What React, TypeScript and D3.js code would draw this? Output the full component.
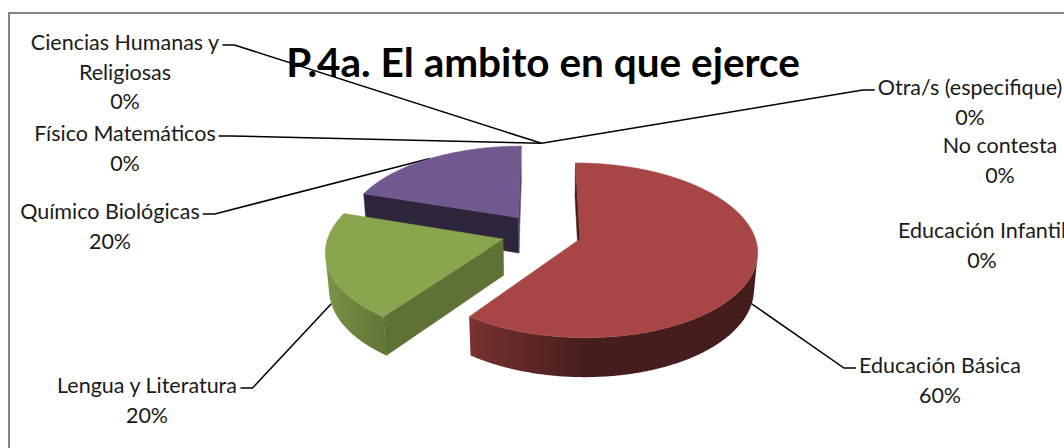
import React, { useMemo } from "react";
import * as d3 from "d3";

// ---------------- data ----------------
const title = "P.4a. El ambito en que ejerce";
const categories = [
  "Educación Infantil",
  "Educación Básica",
  "Lengua y Literatura",
  "Químico Biológicas",
  "Físico Matemáticos",
  "Ciencias Humanas y Religiosas",
  "Otra/s (especifique)",
  "No contesta",
];
const values = [0, 60, 20, 20, 0, 0, 0, 0];
const sliceColors = ["#4F81BD", "#A74644", "#89A54E", "#71588F", "#4198AF", "#DB843D", "#93A9CF", "#D19392"];

// ---------------- layout / style ----------------
const W = 1064;
const H = 448;
const pieView = { cx: 541.5, cy: 233, radius: 174, tilt: 29, distance: 6.85, thickness: 0.24, explode: 0.23 };
const labelFont = "Lato, 'Open Sans', sans-serif";
const labelSize = 21.5;
const lineGap = 29.5;
const titleSize = 40.5;

type Place = { x: number; y: number; side: "left" | "right" | "none"; wrap?: number };
const labelPlaces: Record<string, Place> = {
  "Educación Infantil": { x: 982, y: 238, side: "none" },
  "Educación Básica": { x: 940, y: 373, side: "right" },
  "Lengua y Literatura": { x: 147, y: 393, side: "left" },
  "Químico Biológicas": { x: 110, y: 219, side: "left" },
  "Físico Matemáticos": { x: 125, y: 141, side: "left" },
  "Ciencias Humanas y Religiosas": { x: 125, y: 50, side: "left", wrap: 200 },
  "Otra/s (especifique)": { x: 970, y: 95, side: "right" },
  "No contesta": { x: 1000, y: 153, side: "none" },
};

let measureCtx: CanvasRenderingContext2D | null = null;
function textWidth(s: string, size: number, weight = "normal") {
  if (!measureCtx) measureCtx = document.createElement("canvas").getContext("2d");
  if (!measureCtx) return s.length * size * 0.5;
  measureCtx.font = `${weight} ${size}px Lato`;
  return measureCtx.measureText(s).width;
}

function wrapText(s: string, maxW?: number) {
  if (!maxW) return [s];
  const words = s.split(" ");
  const lines: string[] = [];
  let cur = "";
  for (const w of words) {
    const t = cur ? cur + " " + w : w;
    if (cur && textWidth(t, labelSize) > maxW) {
      lines.push(cur);
      cur = w;
    } else cur = t;
  }
  if (cur) lines.push(cur);
  return lines;
}

function shadeColor(c: string, f: number) {
  const r = d3.rgb(c);
  return d3.rgb(r.r * f, r.g * f, r.b * f).formatHex();
}

type Stop = { offset: number; color: string };
type Face = { d: string; fill: string; grad?: { id: string; x1: number; x2: number; stops: Stop[] } };

export default function App() {
  const model = useMemo(() => {
    const { cx, cy, radius: S, tilt, distance: D, thickness: T, explode: E } = pieView;
    const phi = (tilt * Math.PI) / 180;
    const sinP = Math.sin(phi);
    const cosP = Math.cos(phi);
    const project = (x: number, z: number, h: number): [number, number] => {
      const yc = z * sinP + h * cosP;
      const dc = z * cosP - h * sinP;
      const s = D / (D + dc);
      return [cx + S * x * s, cy - S * yc * s];
    };
    const cam = { x: 0, z: -D * cosP };
    const facing = (px: number, pz: number, nx: number, nz: number) => (cam.x - px) * nx + (cam.z - pz) * nz > 0;

    const total = d3.sum(values);
    const arcs = d3.pie<number>().sort(null).value((d) => d)(values);
    const line = d3.line();
    const step = (0.5 * Math.PI) / 180;
    const wallShade = (t: number) => 0.42 + 0.5 * Math.max(0, -Math.sin(t));

    type Slice = { depth: number; faces: Face[] };
    const slices: Slice[] = [];
    const anchors: [number, number][] = [];

    arcs.forEach((a, i) => {
      const mid = (a.startAngle + a.endAngle) / 2;
      const ox = E * Math.sin(mid);
      const oz = E * Math.cos(mid);
      const ah = Math.cos(mid) > 0 ? 0 : -T;
      anchors[i] = project((1 + E) * Math.sin(mid), (1 + E) * Math.cos(mid), ah);
      if (a.value <= 0) return;
      const base = sliceColors[i];
      const rim = (t: number, h: number) => project(ox + Math.sin(t), oz + Math.cos(t), h);
      const faces: Face[] = [];
      // radial faces
      const radial = [
        { t: a.startAngle, nx: -Math.cos(a.startAngle), nz: Math.sin(a.startAngle) },
        { t: a.endAngle, nx: Math.cos(a.endAngle), nz: -Math.sin(a.endAngle) },
      ];
      radial.forEach((r) => {
        if (!facing(ox + 0.5 * Math.sin(r.t), oz + 0.5 * Math.cos(r.t), r.nx, r.nz)) return;
        const pts = [project(ox, oz, 0), rim(r.t, 0), rim(r.t, -T), project(ox, oz, -T)];
        const f = 0.41 + 0.35 * Math.max(0, r.nx);
        faces.push({ d: line(pts) + "Z", fill: shadeColor(base, f) });
      });
      // outer wall: contiguous visible range as one gradient-filled shape
      const n = Math.max(1, Math.ceil((a.endAngle - a.startAngle) / step));
      const ts: number[] = [];
      for (let k = 0; k <= n; k++) ts.push(a.startAngle + ((a.endAngle - a.startAngle) * k) / n);
      const vis: number[] = [];
      for (let k = 0; k <= n; k++) {
        const t = ts[k];
        if (facing(ox + Math.sin(t), oz + Math.cos(t), Math.sin(t), Math.cos(t))) vis.push(t);
      }
      if (vis.length > 1) {
        const topPts = vis.map((t) => rim(t, 0));
        const botPts = vis.map((t) => rim(t, -T)).reverse();
        const xs = topPts.map((p) => p[0]);
        const x1 = d3.min(xs)!;
        const x2 = d3.max(xs)!;
        const stops: Stop[] = vis
          .filter((_, k) => k % 6 === 0 || k === vis.length - 1)
          .map((t) => ({ offset: (rim(t, 0)[0] - x1) / Math.max(1, x2 - x1), color: shadeColor(base, wallShade(t)) }))
          .sort((p, q) => p.offset - q.offset);
        faces.push({
          d: line([...topPts, ...botPts]) + "Z",
          fill: `url(#wall${i})`,
          grad: { id: `wall${i}`, x1, x2, stops },
        });
      }
      // top face
      const top: [number, number][] = [project(ox, oz, 0), ...ts.map((t) => rim(t, 0))];
      faces.push({ d: line(top) + "Z", fill: base });
      slices.push({ depth: oz, faces });
    });
    slices.sort((p, q) => q.depth - p.depth);

    const labels = categories.map((c, i) => {
      const p = labelPlaces[c];
      const lines = [...wrapText(c, p.wrap), `${Math.round((values[i] / total) * 100)}%`];
      let leader: string | null = null;
      if (p.side !== "none") {
        const w = textWidth(lines[0], labelSize);
        const yy = p.y - 5;
        const ax = p.side === "left" ? p.x + w / 2 + 3 : p.x - w / 2 - 3;
        const sx = p.side === "left" ? ax + 12 : ax - 12;
        leader = line([[ax, yy], [sx, yy], anchors[i]]);
      }
      return { key: c, x: p.x, y: p.y, lines, leader };
    });
    return { slices, labels };
  }, []);

  const grads = model.slices.flatMap((s) => s.faces.filter((f) => f.grad).map((f) => f.grad!));

  return (
    <svg
      width={W}
      height={H}
      style={{ position: "absolute", left: 0, top: 0, background: "#fff" }}
      fontFamily={labelFont}
    >
      <defs>
        {grads.map((g) => (
          <linearGradient key={g.id} id={g.id} gradientUnits="userSpaceOnUse" x1={g.x1} x2={g.x2} y1={0} y2={0}>
            {g.stops.map((s, k) => (
              <stop key={k} offset={s.offset} stopColor={s.color} />
            ))}
          </linearGradient>
        ))}
      </defs>
      <rect x={0} y={0} width={W} height={H} fill="#fff" />
      <path d={`M9,${H + 5}V13H${W + 5}`} fill="none" stroke="#868686" strokeWidth={2} />
      <g>
        {model.labels.map((l) =>
          l.leader ? <path key={l.key} d={l.leader} fill="none" stroke="#000" strokeWidth={1.5} /> : null
        )}
      </g>
      <g>
        {model.slices.map((s, i) => (
          <g key={i}>
            {s.faces.map((f, j) => (
              <path
                key={j}
                d={f.d}
                fill={f.fill}
                stroke={f.grad ? "none" : f.fill}
                strokeWidth={0.5}
                strokeLinejoin="round"
              />
            ))}
          </g>
        ))}
      </g>
      <text x={543} y={77} textAnchor="middle" fontSize={titleSize} fontWeight="bold" fill="#000">
        {title}
      </text>
      <g fontSize={labelSize} fill="#1a1a1a" textAnchor="middle">
        {model.labels.map((l) => (
          <text key={l.key} x={l.x} y={l.y}>
            {l.lines.map((t, k) => (
              <tspan key={k} x={l.x} y={l.y + k * lineGap}>
                {t}
              </tspan>
            ))}
          </text>
        ))}
      </g>
    </svg>
  );
}
